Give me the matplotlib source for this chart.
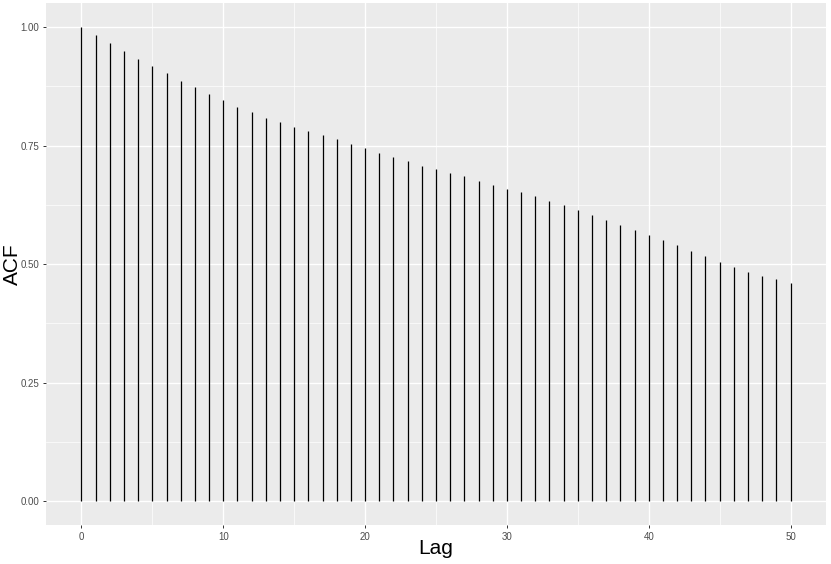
import matplotlib
matplotlib.use("Agg")
import matplotlib.pyplot as plt
from matplotlib.ticker import MultipleLocator

lags = list(range(51))
acf = [1.000, 0.984, 0.966, 0.949, 0.933, 0.917, 0.902, 0.887, 0.873, 0.859,
       0.846, 0.832, 0.820, 0.809, 0.799, 0.789, 0.780, 0.772, 0.763, 0.754,
       0.745, 0.734, 0.726, 0.717, 0.708, 0.701, 0.693, 0.685, 0.676, 0.667,
       0.659, 0.652, 0.644, 0.634, 0.624, 0.614, 0.603, 0.593, 0.582, 0.572,
       0.562, 0.551, 0.540, 0.528, 0.517, 0.505, 0.494, 0.484, 0.476, 0.468,
       0.460]
xticks = [0, 10, 20, 30, 40, 50]
yticks = [0.00, 0.25, 0.50, 0.75, 1.00]
ytick_labels = ["0.00", "0.25", "0.50", "0.75", "1.00"]

plt.rcParams['font.family'] = ['Liberation Sans', 'DejaVu Sans']

W, H = 831, 564
fig = plt.figure(figsize=(W / 100, H / 100), dpi=100)
left, right, top, bottom = 46, 826, 3.3, 525
ax = fig.add_axes([left / W, 1 - bottom / H, (right - left) / W, (bottom - top) / H])
ax.set_facecolor('#EBEBEB')
for s in ax.spines.values():
    s.set_visible(False)

ax.set_xlim(-2.5, 52.5)
ax.set_ylim(-0.05, 1.05)
ax.xaxis.set_minor_locator(MultipleLocator(5))
ax.yaxis.set_minor_locator(MultipleLocator(0.125))
ax.set_xticks(xticks)
ax.set_xticklabels([str(t) for t in xticks])
ax.set_yticks(yticks)
ax.set_yticklabels(ytick_labels)

ax.grid(which='major', color='white', linewidth=1.0)
ax.grid(which='minor', color='white', linewidth=0.5)
ax.set_axisbelow(True)

ax.vlines(lags, 0, acf, colors='black', linewidth=0.9)

ax.tick_params(which='major', length=2.5, width=0.7, color='#333333',
               labelsize=7, labelcolor='#4D4D4D', pad=2.5)
ax.tick_params(which='minor', length=0)

fig.text(436 / W, 1 - 549 / H, 'Lag', fontsize=15, ha='center', va='center')
fig.text(12 / W, 1 - 264 / H, 'ACF', fontsize=15, ha='center', va='center',
         rotation=90)

fig.savefig('out.png', dpi=100)
